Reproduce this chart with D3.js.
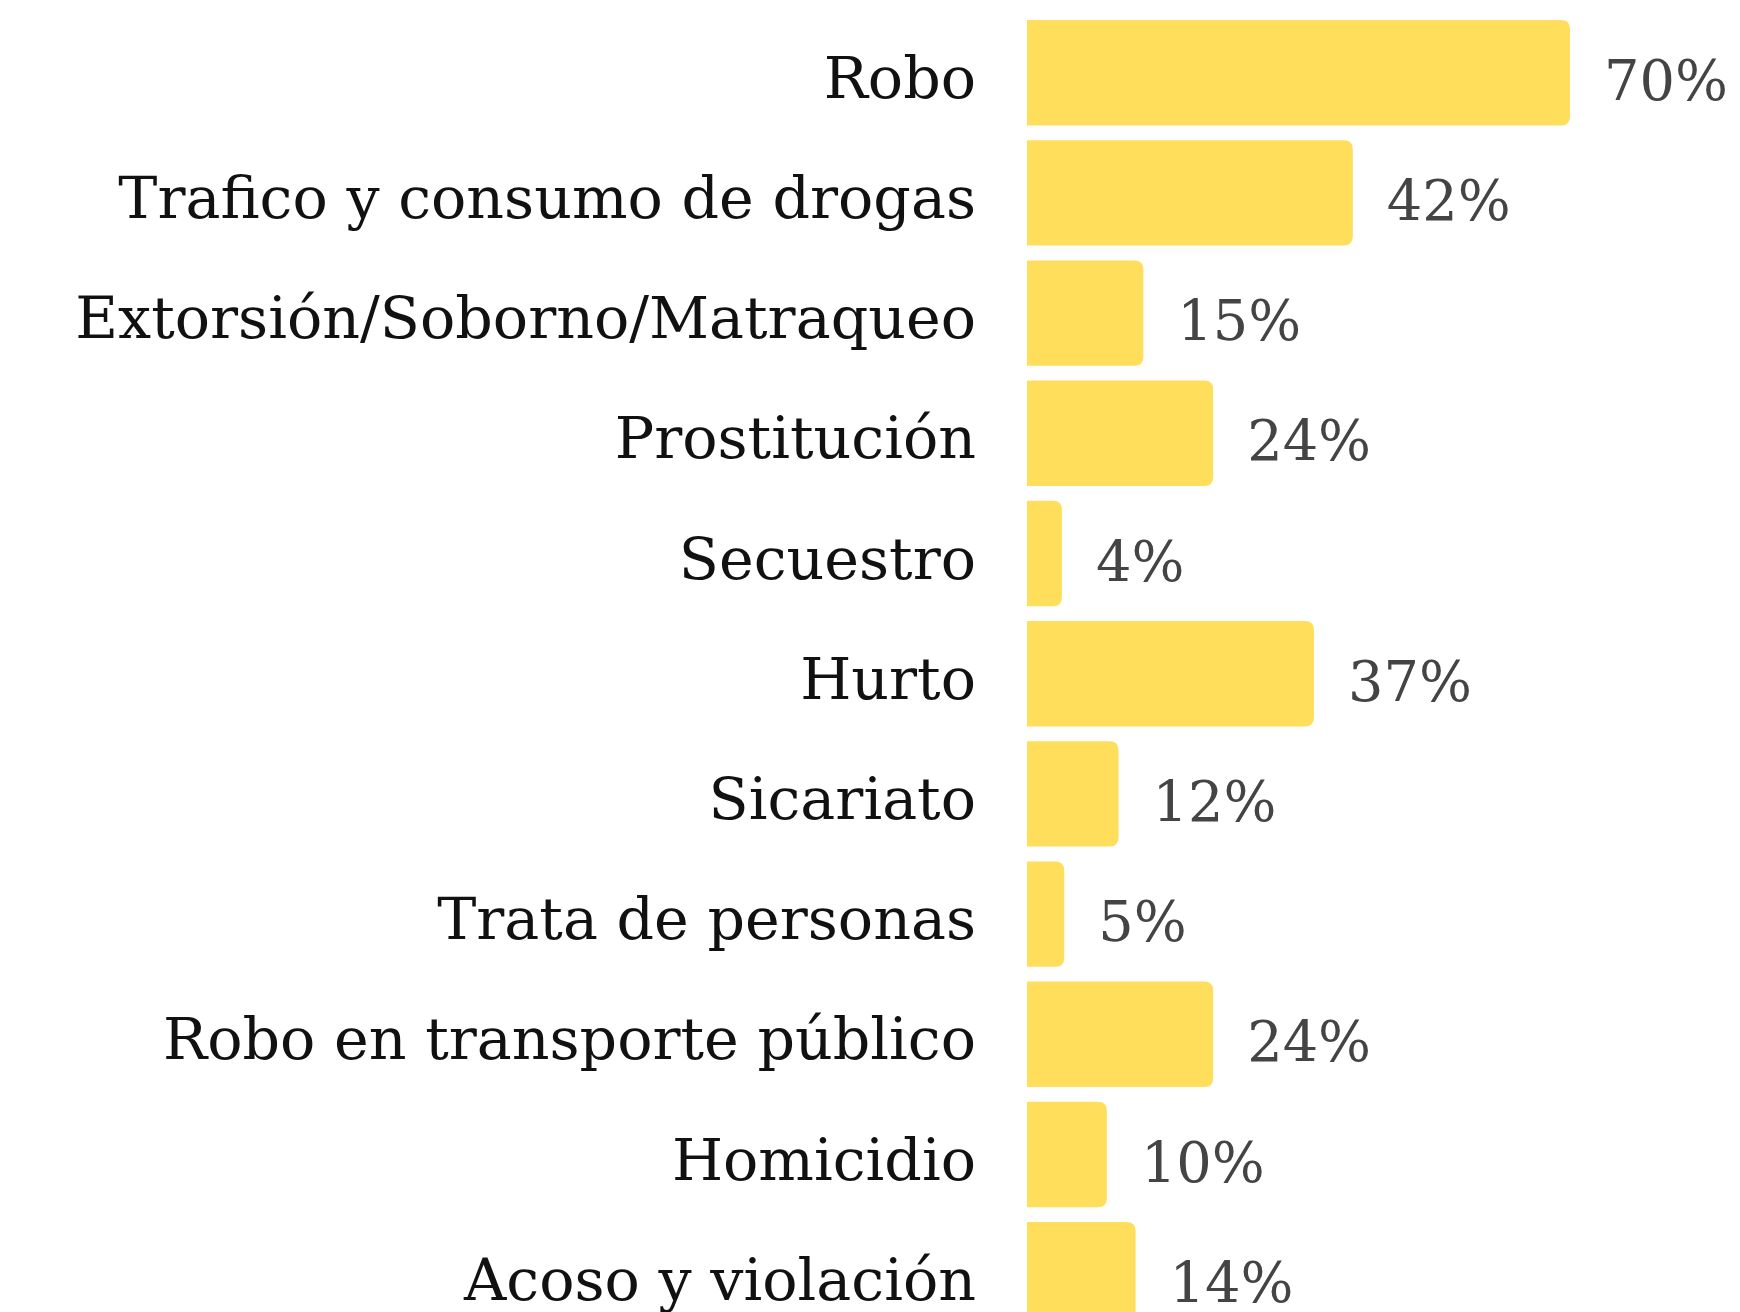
<!DOCTYPE html>
<html><head><meta charset="utf-8">
<script src="https://cdn.jsdelivr.net/npm/d3@7"></script>
<style>html,body{margin:0;padding:0;background:#fff;}svg{display:block;}</style>
</head><body>
<svg id="chart" width="1740" height="1312"></svg>
<script>
const categories = ["Robo","Trafico y consumo de drogas","Extorsión/Soborno/Matraqueo","Prostitución","Secuestro","Hurto","Sicariato","Trata de personas","Robo en transporte público","Homicidio","Acoso y violación"];
const values = [70,42,15,24,4.5,37,11.8,4.8,24,10.3,14];
const valueLabels = ["70%","42%","15%","24%","4%","37%","12%","5%","24%","10%","14%"];

const svg = d3.select("#chart");
const font = "'DejaVu Serif', serif";
const y = d3.scaleBand().domain(categories).range([12.6, 12.6 + 11*120.2]).paddingInner(0.123).paddingOuter(0.0615);
const x = d3.scaleLinear().domain([0,70]).range([1027,1570]);
const r = 9;
function barPath(d,i){
  const x0 = x(0), x1 = x(values[i]), y0 = y(d), h = y.bandwidth();
  const rr = Math.min(r, (x1-x0)/2);
  return `M${x0},${y0}H${x1-rr}Q${x1},${y0} ${x1},${y0+rr}V${y0+h-rr}Q${x1},${y0+h} ${x1-rr},${y0+h}H${x0}Z`;
}
svg.append("g").selectAll("path").data(categories).join("path")
  .attr("d", barPath).attr("fill","#FFDE5C");

const cat = svg.append("g").selectAll("text").data(categories).join("text")
  .attr("x", 976).attr("y", d => y(d) + y.bandwidth()/2 + 25)
  .attr("text-anchor","end").attr("fill","#111")
  .style("font-family", font).style("font-size","60px").text(d=>d);
// fit second label to reference width
const wTraf = cat.nodes()[1].getComputedTextLength();
cat.style("font-size", (60 * 858 / wTraf) + "px");

const vl = svg.append("g").selectAll("text").data(categories).join("text")
  .attr("x", (d,i) => x(values[i]) + 34)
  .attr("y", d => y(d) + y.bandwidth()/2 + 27)
  .attr("fill","#444").style("font-family", font).style("font-size", "60px")
  .text((d,i)=>valueLabels[i]);
const w70 = vl.nodes()[0].getComputedTextLength();
vl.style("font-size", (60*124/w70) + "px");
</script>
</body></html>
